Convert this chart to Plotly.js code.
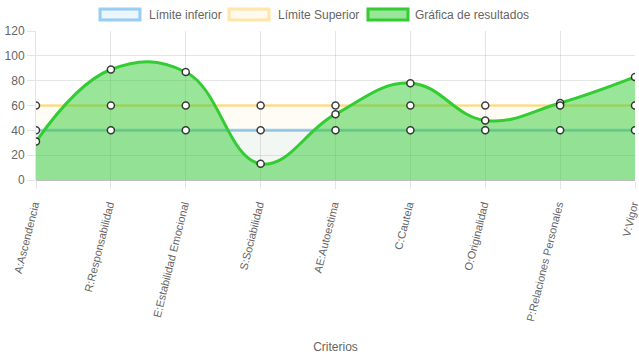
<!DOCTYPE html>
<html>
<head>
<meta charset="utf-8">
<script src="https://cdn.plot.ly/plotly-3.0.1.min.js"></script>
<style>html,body{margin:0;padding:0;background:#fff;}#chart{width:639px;height:360px;}</style>
</head>
<body>
<div id="chart"></div>
<script>
const categories = ["A:Ascendencia","R:Responsabilidad","E:Estabilidad Emocional","S:Sociabilidad","AE:Autoestima","C:Cautela","O:Originalidad","P:Relaciones Personales","V:Vigor"];
const limiteInferior = [40,40,40,40,40,40,40,40,40];
const limiteSuperior = [60,60,60,60,60,60,60,60,60];
const resultados = [31,89,87,13,53,78,48,62,83];
const yTicks = [0,20,40,60,80,100,120];
const seriesNames = ['Límite inferior','Límite Superior','Gráfica de resultados'];
const seriesLine = ['rgba(54,162,235,0.5)','rgba(255,206,86,0.5)','rgb(51,204,51)'];
const seriesFill = ['rgba(54,162,235,0.06)','rgba(255,206,86,0.06)','rgba(51,204,51,0.5)'];

const marker = {size:7, color:'#ffffff', line:{color:'rgba(0,0,0,0.75)', width:1.5}};
const smooth = 1.2;
const seriesData = [limiteInferior, limiteSuperior, resultados];

const traces = seriesData.map((ys,i)=>({
  x:categories, y:ys, name:seriesNames[i], type:'scatter',
  mode: i===2 ? 'lines+markers' : 'lines',
  line:{color:seriesLine[i], width:3, shape:'spline', smoothing:smooth},
  fill:'tozeroy', fillcolor:seriesFill[i], marker:marker, showlegend:false
}));
traces.push({x:categories, y:limiteInferior, type:'scatter', mode:'markers', showlegend:false, marker:marker, hoverinfo:'skip'});
traces.push({x:categories, y:limiteSuperior, type:'scatter', mode:'markers', showlegend:false, marker:marker, hoverinfo:'skip'});

// legend (drawn as boxes + labels, Chart.js style), plot area: x 36..635, y 31..180
const plotL = 36, plotW = 599, plotB = 180, plotH = 149;
const px = v => (v - plotL) / plotW;
const py = v => (plotB - v) / plotH;
const legendBoxX = [99, 228, 367];
const legendTextX = [147, 276, 413];
const shapes = [], annotations = [];
for (let i = 0; i < 3; i++) {
  shapes.push({type:'rect', xref:'paper', yref:'paper',
    x0:px(legendBoxX[i]+1), x1:px(legendBoxX[i]+41), y0:py(20), y1:py(9),
    line:{color:seriesLine[i], width:3},
    fillcolor: i===2 ? seriesFill[i] : seriesFill[i].replace('0.06','0.1')});
  annotations.push({xref:'paper', yref:'paper', x:px(legendTextX[i]), y:py(14.5),
    xanchor:'left', yanchor:'middle', showarrow:false, text:seriesNames[i],
    font:{size:12, color:'#666'}});
}

const layout = {
  width:639, height:360,
  margin:{l:plotL, r:4, t:31, b:180, pad:0},
  paper_bgcolor:'#ffffff', plot_bgcolor:'#ffffff',
  font:{family:'"Liberation Sans", Arial, sans-serif', size:12, color:'#666'},
  showlegend:false,
  shapes:shapes, annotations:annotations,
  xaxis:{type:'category', range:[0,8], showgrid:true, gridcolor:'rgba(0,0,0,0.1)',
         ticks:'outside', ticklen:8, tickcolor:'rgba(0,0,0,0.1)', tickangle:-76,
         ticklabelshift:-2, ticklabelstandoff:5,
         showline:false, zeroline:false, automargin:false,
         title:{text:'Criterios', standoff:20, font:{size:12, color:'#666'}},
         tickfont:{size:11, color:'#666'}},
  yaxis:{range:[0,120], tickvals:yTicks, showgrid:true, gridcolor:'rgba(0,0,0,0.1)',
         ticks:'outside', ticklen:8, tickcolor:'rgba(0,0,0,0.1)', zeroline:true, zerolinecolor:'rgba(0,0,0,0.25)',
         zerolinewidth:1, showline:true, linecolor:'rgba(0,0,0,0.1)', automargin:false,
         tickfont:{size:12, color:'#666'}}
};

Plotly.newPlot('chart', traces, layout, {displayModeBar:false, staticPlot:true});
</script>
</body>
</html>
